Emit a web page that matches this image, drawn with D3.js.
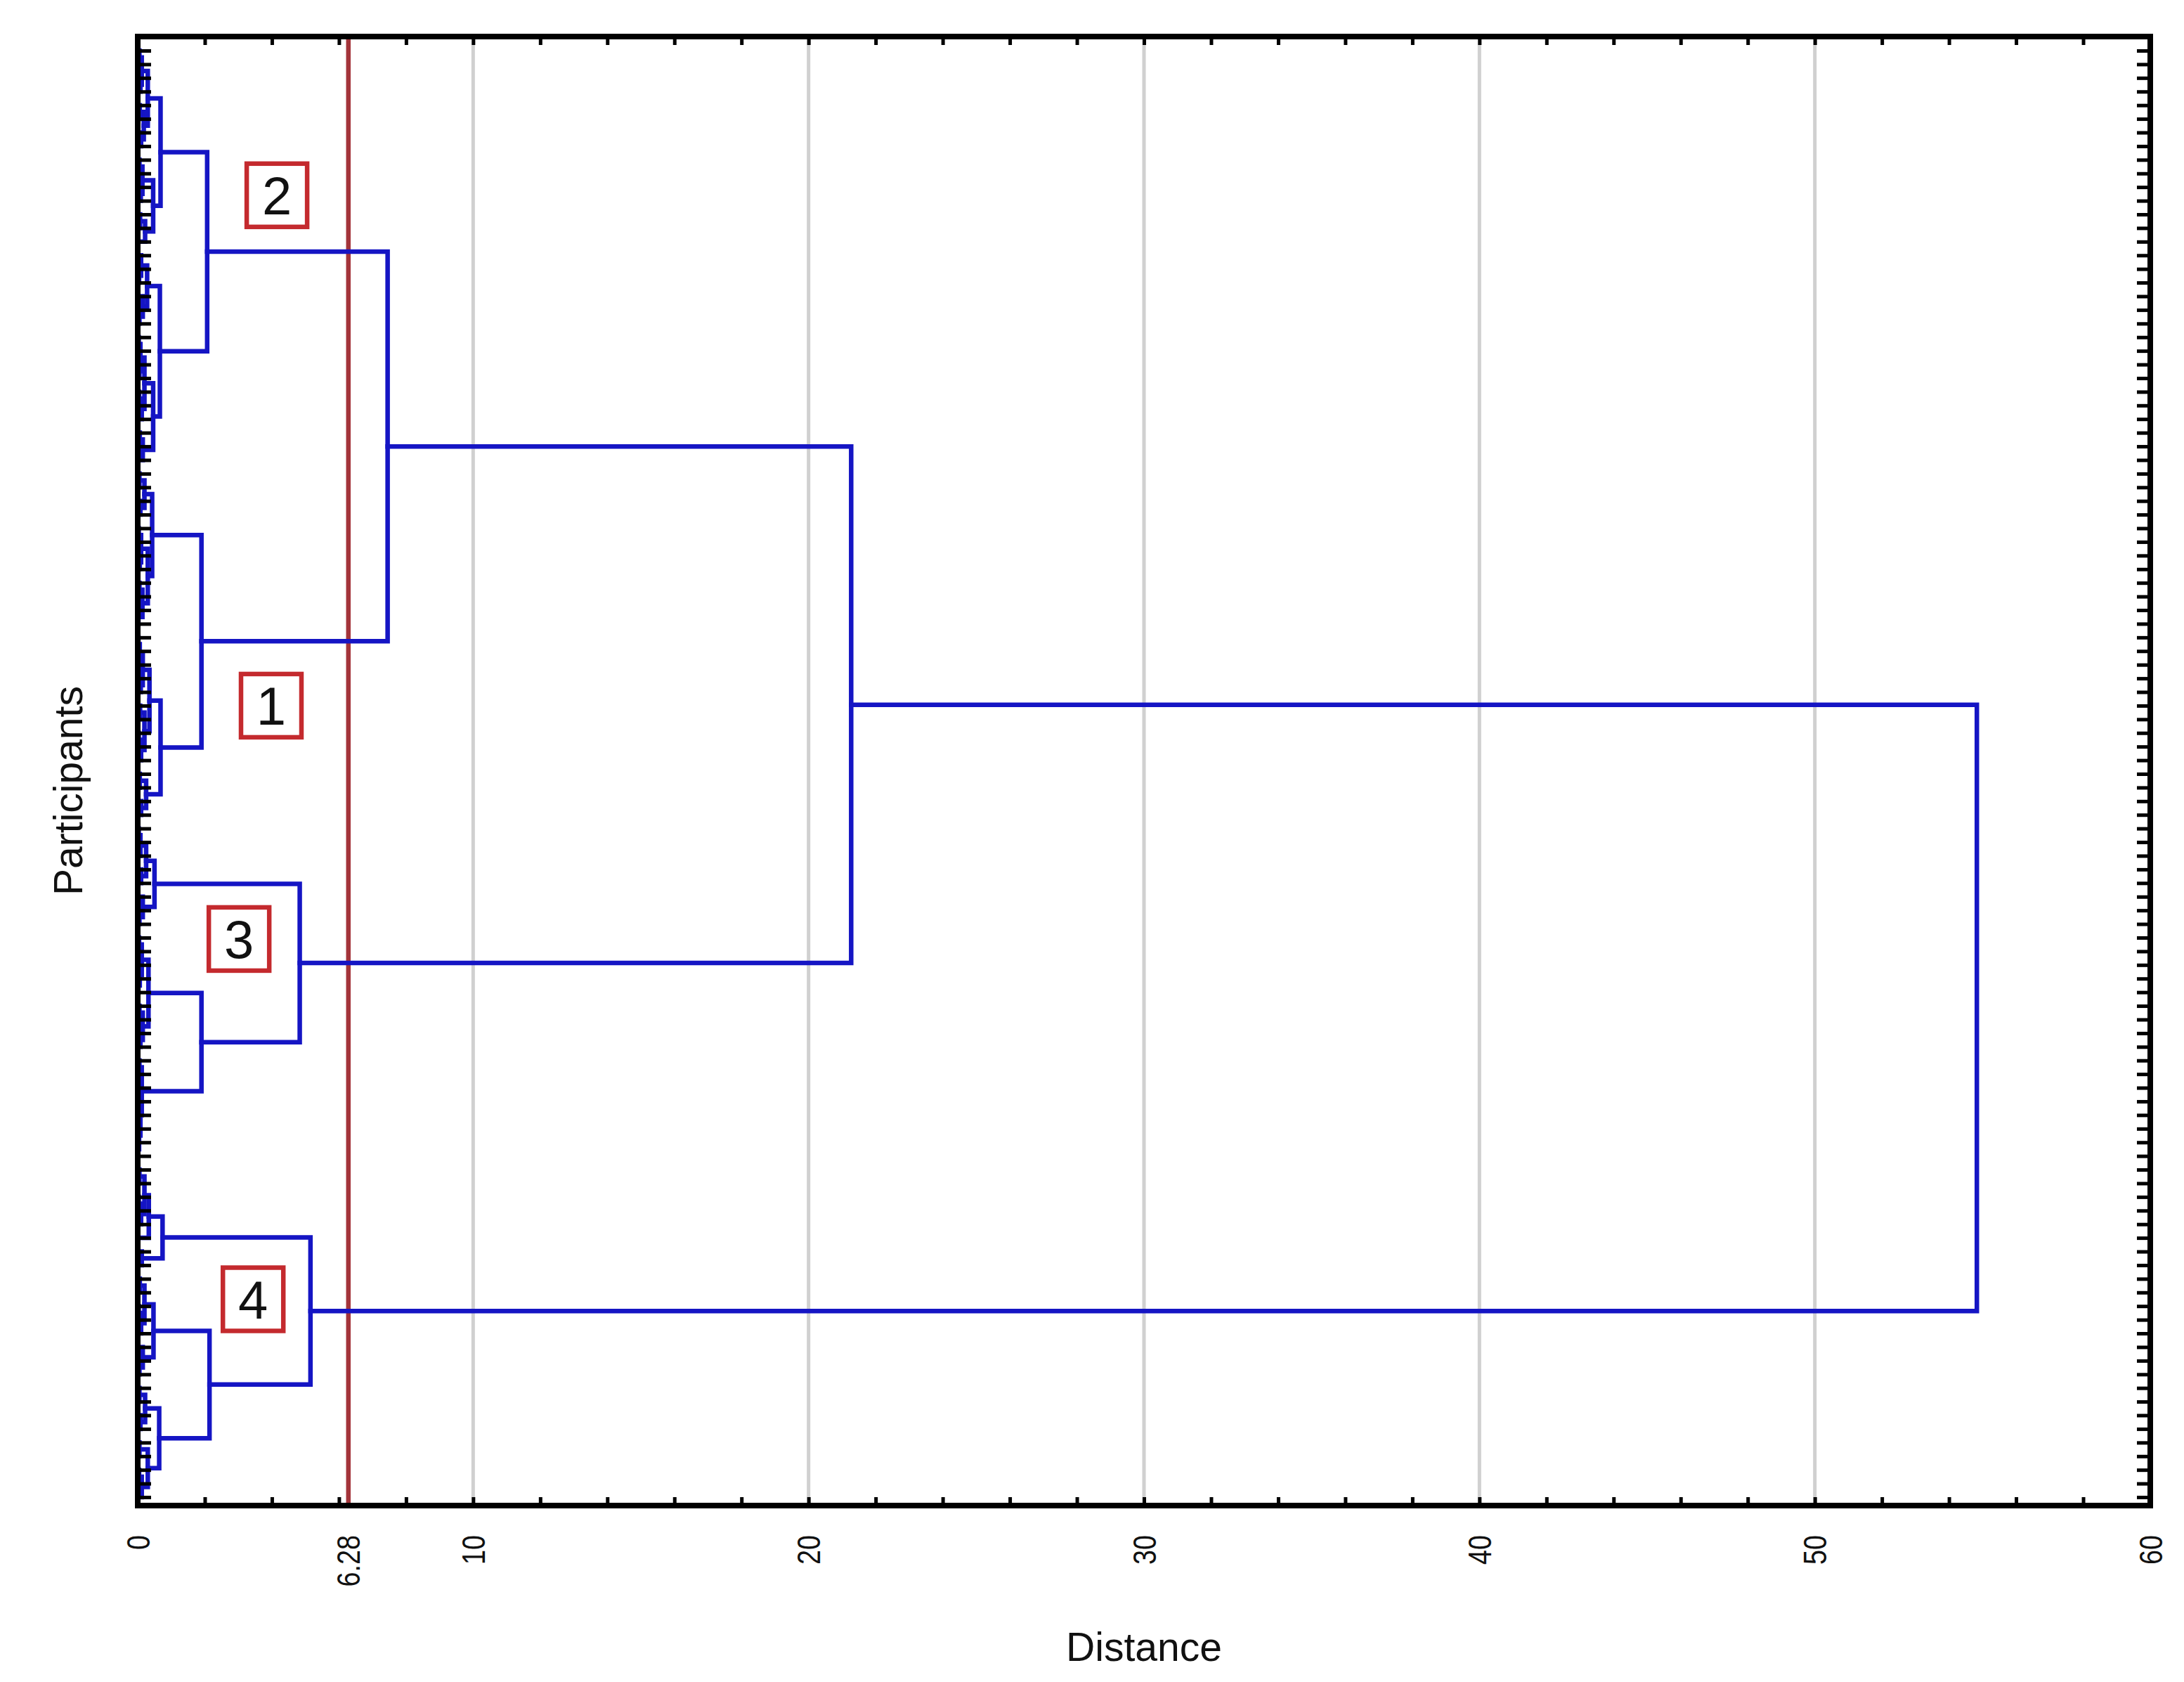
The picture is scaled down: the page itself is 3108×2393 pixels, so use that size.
<!DOCTYPE html>
<html>
<head>
<meta charset="utf-8">
<script src="https://cdn.jsdelivr.net/npm/d3@7"></script>
<style>
  html, body { margin: 0; padding: 0; background: #ffffff; }
  svg { display: block; }
  text { font-family: "Liberation Sans", Arial, sans-serif; }
</style>
</head>
<body>
<svg id="chart" width="3108" height="2393"></svg>
<script>
// ---------------- DATA ----------------
// Dendrogram nodes: [mergeDistance, leftChild, rightChild]; a leaf (participant) is 0.
const cluster2 = [2.07,
  [0.68,
    [0.30, [0.12, [0.05, 0, 0], [0.08, 0, 0]], [0.18, [0.06, 0, 0], [0.10, 0, 0]]],
    [0.46, [0.14, [0.05, 0, 0], [0.09, 0, 0]], [0.22, [0.07, 0, 0], 0]]],
  [0.66,
    [0.28, [0.10, 0, [0.04, 0, 0]], [0.15, 0, [0.05, 0, 0]]],
    [0.46, [0.20, [0.08, [0.03, 0, 0], [0.05, 0, 0]], [0.12, [0.04, 0, 0], 0]], [0.15, [0.06, 0, 0], 0]]]];

const cluster1 = [1.90,
  [0.43,
    [0.20, [0.05, 0, 0], [0.08, 0, 0]],
    [0.30, [0.10, [0.03, 0, 0], [0.06, 0, 0]], [0.14, [0.05, 0, 0], [0.02, 0, 0]]]],
  [0.68,
    [0.35, [0.15, [0.06, [0.02, 0, 0], 0], [0.09, 0, 0]], [0.20, [0.07, 0, 0], [0.10, [0.03, 0, 0], 0]]],
    [0.25, [0.06, 0, 0], [0.10, 0, 0]]]];

const cluster3 = [4.83,
  [0.50,
    [0.25, [0.08, [0.03, 0, 0], 0], [0.10, 0, 0]],
    [0.15, 0, [0.05, 0, 0]]],
  [1.90,
    [0.32, [0.12, [0.04, 0, 0], [0.06, 0, [0.02, 0, 0]]], [0.15, [0.05, 0, 0], [0.08, 0, 0]]],
    [0.12, [0.05, 0, 0], [0.08, [0.03, 0, 0], [0.04, [0.02, 0, 0], [0.01, 0, 0]]]]]];

const cluster4 = [5.15,
  [0.74,
    [0.33, [0.20, [0.05, 0, 0], [0.10, [0.03, 0, 0], 0]], 0],
    [0.12, 0, 0]],
  [2.14,
    [0.47, [0.20, [0.06, 0, 0], [0.10, [0.03, 0, 0], 0]], [0.15, 0, [0.05, 0, 0]]],
    [0.64, [0.22, [0.05, 0, 0], [0.08, 0, 0]], [0.30, [0.05, 0, 0], [0.12, [0.04, 0, 0], 0]]]]];

// upper merges: clusters 2+1, then +3, then +4
const upperMergeDistances = [7.45, 21.27, 54.83];

const cutoffDistance = 6.28;
const xMinorTicks = [0, 2, 4, 6, 8, 10, 12, 14, 16, 18, 20, 22, 24, 26, 28, 30, 32, 34, 36, 38, 40, 42, 44, 46, 48, 50, 52, 54, 56, 58, 60];
const xTickLabels = [0, 6.28, 10, 20, 30, 40, 50, 60];
const xGridLines = [10, 20, 30, 40, 50];

const clusterNames = ["2", "1", "3", "4"];
const clusterNameDistance = [4.15, 3.98, 3.02, 3.44];   // x anchor in distance units
const clusterNameLeafPos = [10.6, 48.0, 65.1, 91.5];      // y anchor in leaf-order units

const xTitle = "Distance";
const yTitle = "Participants";

// ---------------- CHART ----------------
const tree = [upperMergeDistances[2],
  [upperMergeDistances[1], [upperMergeDistances[0], cluster2, cluster1], cluster3],
  cluster4];

const svg = d3.select("#chart");
svg.append("rect").attr("width", 3108).attr("height", 2393).attr("fill", "#ffffff");

const L = 196, R = 3060, T = 52, B = 2142;

const root = d3.hierarchy(tree, d => Array.isArray(d) ? [d[1], d[2]] : null);
const leaves = root.leaves();
leaves.forEach((lf, i) => { lf.id = "P" + (i + 1); });

const x = d3.scaleLinear().domain([0, 60]).range([L, R]);
const y = d3.scalePoint().domain(leaves.map(d => d.id)).range([72, 2130]);
const leafIdx = d3.scaleLinear().domain([0, leaves.length - 1]).range([72, 2130]);

root.eachAfter(n => {
  if (n.children) {
    n.h = n.data[0];
    n.y = (n.children[0].y + n.children[1].y) / 2;
  } else {
    n.h = 0;
    n.y = y(n.id);
  }
});

// grid lines
svg.append("g").selectAll("line").data(xGridLines).join("line")
  .attr("x1", d => x(d)).attr("x2", d => x(d))
  .attr("y1", T).attr("y2", B)
  .attr("stroke", "#d0d0d0").attr("stroke-width", 5);

// cutoff line
svg.append("line")
  .attr("x1", x(cutoffDistance)).attr("x2", x(cutoffDistance))
  .attr("y1", T).attr("y2", B)
  .attr("stroke", "#a3343a").attr("stroke-width", 6.5);

// dendrogram links
const internal = root.descendants().filter(n => n.children);
svg.append("g").selectAll("path").data(internal).join("path")
  .attr("d", n => {
    const [a, b] = n.children;
    return `M${x(a.h)},${a.y}H${x(n.h)}V${b.y}H${x(b.h)}`;
  })
  .attr("fill", "none")
  .attr("stroke", "#1515c4")
  .attr("stroke-width", 6.5)
  .attr("stroke-linejoin", "miter")
  .attr("stroke-linecap", "square");

// axes (ticks inward)
const axisStyle = g => {
  g.select(".domain").remove();
  g.selectAll(".tick line").attr("stroke", "#000").attr("stroke-width", 5);
};
svg.append("g").attr("transform", `translate(0,${B})`)
  .call(d3.axisBottom(x).tickValues(xMinorTicks).tickSize(-12).tickFormat("")).call(axisStyle);
svg.append("g").attr("transform", `translate(0,${T})`)
  .call(d3.axisTop(x).tickValues(xMinorTicks).tickSize(-12).tickFormat("")).call(axisStyle);
svg.append("g").attr("transform", `translate(${L},0)`)
  .call(d3.axisLeft(y).tickSize(-19).tickFormat("")).call(axisStyle);
svg.append("g").attr("transform", `translate(${R},0)`)
  .call(d3.axisRight(y).tickSize(-19).tickFormat("")).call(axisStyle);

// frame
svg.append("rect")
  .attr("x", L).attr("y", T).attr("width", R - L).attr("height", B - T)
  .attr("fill", "none").attr("stroke", "#000").attr("stroke-width", 8);

// x tick labels (rotated)
svg.append("g").selectAll("text").data(xTickLabels).join("text")
  .attr("transform", d => `translate(${x(d)},2184) rotate(-90) scale(0.82,1)`)
  .attr("text-anchor", "end")
  .attr("dy", "0.36em")
  .attr("font-size", 46)
  .attr("fill", "#111")
  .text(d => String(d));

// titles
svg.append("text")
  .attr("x", (L + R) / 2).attr("y", 2363)
  .attr("text-anchor", "middle")
  .attr("font-size", 57).attr("fill", "#111")
  .text(xTitle);
svg.append("text")
  .attr("transform", `translate(117,1125) rotate(-90)`)
  .attr("text-anchor", "middle")
  .attr("font-size", 57).attr("fill", "#111")
  .text(yTitle);

// cluster number boxes
const boxes = svg.append("g").selectAll("g").data(clusterNames).join("g")
  .attr("transform", (d, i) => `translate(${x(clusterNameDistance[i])},${leafIdx(clusterNameLeafPos[i])})`);
boxes.append("rect")
  .attr("x", -43).attr("y", -45).attr("width", 86).attr("height", 90)
  .attr("fill", "#ffffff").attr("stroke", "#c42a2e").attr("stroke-width", 6.5);
boxes.append("text")
  .attr("text-anchor", "middle").attr("dy", "0.36em")
  .attr("font-size", 76).attr("fill", "#111")
  .text(d => d);
</script>
</body>
</html>
